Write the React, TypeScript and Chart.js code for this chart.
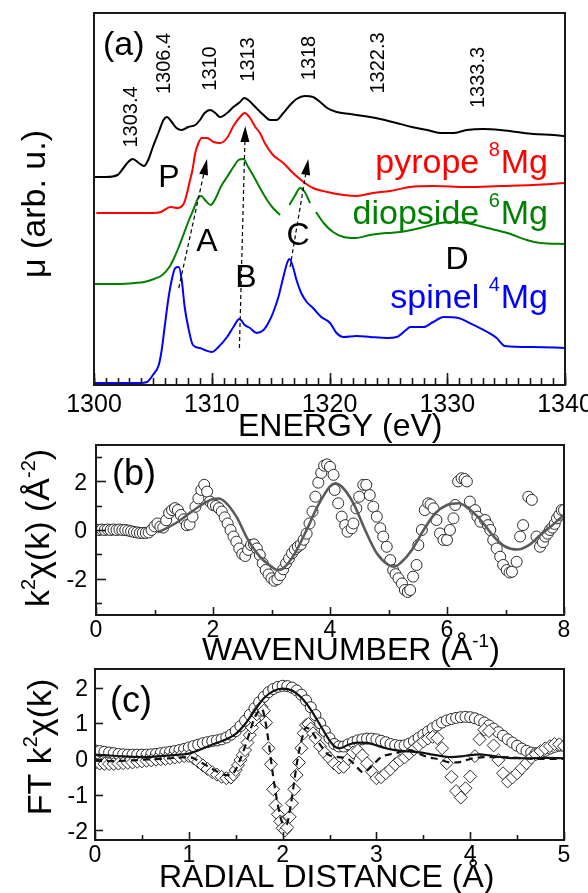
import React, { useEffect, useRef } from 'react';
import { Chart, registerables } from 'chart.js';

Chart.register(...registerables);

const W = 588;
const H = 893;
const FF = '"Liberation Sans", Arial, Helvetica, sans-serif';

// ================= Panel (a): XANES spectra =================
const aBlackE = [1300.0, 1301.0, 1302.0, 1302.5, 1302.9, 1303.3, 1303.8, 1304.25, 1304.6, 1305.0, 1305.5, 1305.9, 1306.2, 1306.6, 1307.0, 1307.45, 1308.0, 1308.6, 1309.0, 1309.4, 1309.86, 1310.3, 1310.7, 1311.3, 1311.84, 1312.4, 1312.75, 1313.1, 1313.7, 1314.4, 1314.95, 1315.5, 1316.08, 1316.65, 1317.2, 1317.9, 1318.6, 1319.2, 1319.8, 1320.6, 1321.75, 1322.9, 1324.3, 1325.7, 1327.0, 1328.3, 1329.4, 1330.5, 1331.65, 1333.1, 1334.5, 1335.9, 1337.3, 1339.0, 1340.0];
const aBlackMu = [2.08, 2.08, 2.10, 2.17, 2.23, 2.26, 2.22, 2.19, 2.25, 2.38, 2.53, 2.65, 2.68, 2.63, 2.57, 2.55, 2.58, 2.60, 2.65, 2.72, 2.75, 2.72, 2.68, 2.72, 2.78, 2.83, 2.87, 2.85, 2.78, 2.70, 2.65, 2.65, 2.72, 2.80, 2.86, 2.89, 2.88, 2.83, 2.77, 2.73, 2.71, 2.69, 2.66, 2.62, 2.58, 2.55, 2.52, 2.52, 2.55, 2.56, 2.55, 2.53, 2.51, 2.50, 2.49];

const aPyropeE = [1300.2, 1302.0, 1304.0, 1305.0, 1305.67, 1306.5, 1307.1, 1307.65, 1307.9, 1308.1, 1308.36, 1308.6, 1308.87, 1309.15, 1309.6, 1310.14, 1310.7, 1311.3, 1311.84, 1312.4, 1312.8, 1313.25, 1313.7, 1314.1, 1314.5, 1315.2, 1316.08, 1316.9, 1317.8, 1318.6, 1319.8, 1321.2, 1322.3, 1323.7, 1325.15, 1326.85, 1328.8, 1331.65, 1334.5, 1337.3, 1340.0];
const aPyropeMu = [1.72, 1.72, 1.72, 1.72, 1.73, 1.78, 1.77, 1.82, 1.92, 2.02, 2.15, 2.32, 2.42, 2.47, 2.47, 2.43, 2.42, 2.47, 2.59, 2.68, 2.72, 2.67, 2.58, 2.52, 2.42, 2.30, 2.22, 2.12, 2.03, 1.97, 1.93, 1.90, 1.89, 1.92, 1.94, 1.98, 1.99, 1.98, 1.99, 2.00, 2.02];

const aDiopsideE = [1300.0, 1302.0, 1303.5, 1304.25, 1305.1, 1305.8, 1306.4, 1306.8, 1307.2, 1307.65, 1308.07, 1308.5, 1308.84, 1309.1, 1309.5, 1309.9, 1310.34, 1310.76, 1311.3, 1311.84, 1312.27, 1312.68, 1313.1, 1313.5, 1314.1, 1314.7, 1315.2, 1315.8, 1316.2, 1316.6, 1317.1, 1317.5, 1317.9, 1318.35, 1318.6, 1318.85, 1319.5, 1320.3, 1321.2, 1322.2, 1323.45, 1324.9, 1326.0, 1327.7, 1329.4, 1330.5, 1331.65, 1333.4, 1335.1, 1336.75, 1337.9, 1340.0];
const aDiopsideMu = [1.01, 1.01, 1.02, 1.03, 1.06, 1.10, 1.18, 1.27, 1.38, 1.52, 1.65, 1.77, 1.87, 1.89, 1.84, 1.80, 1.87, 1.98, 2.08, 2.18, 2.25, 2.26, 2.18, 2.10, 1.97, 1.85, 1.77, 1.70, null, 1.80, 1.90, 1.97, 1.93, 1.82, null, 1.73, 1.62, 1.53, 1.48, 1.47, 1.50, 1.52, 1.53, 1.57, 1.62, 1.63, 1.62, 1.57, 1.52, 1.45, 1.42, 1.41];

const aSpinelE = [1300.0, 1302.0, 1303.9, 1304.5, 1305.0, 1305.5, 1305.75, 1306.0, 1306.3, 1306.6, 1306.9, 1307.2, 1307.45, 1307.7, 1308.0, 1308.4, 1309.0, 1309.4, 1310.0, 1310.57, 1311.3, 1311.84, 1312.35, 1312.8, 1313.25, 1313.8, 1314.4, 1314.8, 1315.2, 1315.66, 1316.08, 1316.4, 1316.6, 1316.9, 1317.2, 1317.6, 1318.07, 1318.6, 1319.3, 1320.05, 1320.6, 1321.2, 1322.3, 1323.45, 1324.9, 1325.7, 1326.5, 1326.85, 1328.0, 1328.8, 1329.7, 1330.95, 1331.9, 1333.4, 1334.2, 1334.9, 1337.3, 1340.0];
const aSpinelMu = [0.02, 0.02, 0.02, 0.03, 0.10, 0.20, 0.35, 0.58, 0.85, 1.05, 1.17, 1.18, 1.05, 0.78, 0.58, 0.40, 0.37, 0.35, 0.33, 0.38, 0.48, 0.58, 0.66, 0.60, 0.57, 0.52, 0.55, 0.62, 0.72, 0.88, 1.08, 1.22, 1.26, 1.18, 1.05, 0.92, 0.83, 0.77, 0.68, 0.62, 0.52, 0.48, 0.49, 0.48, 0.47, 0.48, 0.55, 0.58, 0.58, 0.63, 0.68, 0.67, 0.62, 0.53, 0.47, 0.39, 0.38, 0.37];

const aXTicks = [1300, 1310, 1320, 1330, 1340];
const aXTickLabels = ['1300', '1310', '1320', '1330', '1340'];
const aPeakLabels = ['1303.4', '1306.4', '1310', '1313', '1318', '1322.3', '1333.3'];
const aLetters = ['P', 'A', 'B', 'C', 'D'];
const aSpectrumNames = ['pyrope ', 'diopside ', 'spinel '];
const aSpectrumSup = ['8', '6', '4'];

// ================= Panel (b): k^2 chi(k) =================
const bK = [
  0, 0.05, 0.1, 0.15, 0.2, 0.25, 0.3, 0.35, 0.4, 0.45,
  0.5, 0.55, 0.6, 0.65, 0.7, 0.75, 0.8, 0.85, 0.9, 0.95,
  1.0, 1.05, 1.1, 1.15, 1.2, 1.25, 1.3, 1.35, 1.4, 1.45,
  1.5, 1.55, 1.6, 1.65, 1.7, 1.75, 1.8, 1.85, 1.9, 1.95,
  2.0, 2.05, 2.1, 2.15, 2.2, 2.25, 2.3, 2.35, 2.4, 2.45,
  2.5, 2.55, 2.6, 2.65, 2.7, 2.75, 2.8, 2.85, 2.9, 2.95,
  3.0, 3.05, 3.1, 3.15, 3.2, 3.25, 3.3, 3.35, 3.4, 3.45,
  3.5, 3.55, 3.6, 3.65, 3.7, 3.75, 3.8, 3.85, 3.9, 3.95,
  4.0, 4.06, 4.08, 4.14, 4.2, 4.26, 4.3, 4.37, 4.4, 4.45,
  4.5, 4.57, 4.62, 4.68, 4.74, 4.8, 4.86, 4.91, 4.97, 5.03,
  5.08, 5.12, 5.17, 5.23, 5.28, 5.33, 5.37, 5.42, 5.48, 5.51,
  5.57, 5.62, 5.68, 5.72, 5.77, 5.82, 5.88, 5.94, 6.0, 6.05,
  6.11, 6.14, 6.19, 6.25, 6.3, 6.34, 6.39, 6.48, 6.52, 6.57,
  6.65, 6.7, 6.74, 6.79, 6.85, 6.91, 6.96, 7.02, 7.07, 7.11,
  7.19, 7.25, 7.3, 7.39, 7.45, 7.53, 7.59, 7.64, 7.68, 7.72,
  7.76, 7.8, 7.84, 7.88, 7.92, 7.96, 8.0,
];
const bChi = [
  0.02, 0, 0.02, 0, 0.02, 0, 0.02, 0, 0.02, 0,
  0, -0.02, -0.05, -0.08, -0.1, -0.12, -0.12, -0.12, -0.1, 0,
  0.15, 0.27, 0.14, 0.1, 0.4, 0.7, 0.82, 0.9, 0.82, 0.62,
  0.44, 0.2, 0.23, 0.55, 0.96, 1.3, 1.65, 1.86, 1.58, 1.17,
  1.03, 0.99, 0.9, 0.76, 0.52, 0.27, 0, -0.27, -0.48, -0.76,
  -0.99, -1.07, -0.82, -0.62, -0.59, -0.76, -1.03, -1.37, -1.65, -1.83,
  -1.99, -2.09, -2.03, -1.86, -1.62, -1.37, -1.17, -0.96, -0.8, -0.69,
  -0.6, -0.4, -0.15, 0.27, 0.76, 1.37, 1.95, 2.35, 2.65, 2.7,
  2.6, 2.27, 1.65, 1.1, 0.55, 0.2, -0.07, 0.07, 0.27, 0.89,
  1.37, 1.86, 1.86, 1.44, 0.96, 0.55, 0.07, -0.27, -0.69, -1.24,
  -1.65, -1.82, -1.99, -2.2, -2.47, -2.55, -2.47, -1.92, -1.44, -0.62,
  0, 0.82, 1.1, 1.05, 0.89, 0.41, -0.14, -0.41, -0.41, 0,
  0.48, 1.03, 2.0, 2.13, 2.1, 2.0, 1.17, 0.82, 0.55, 0.34,
  0.41, 0.2, 0, -0.41, -0.76, -1.1, -1.44, -1.65, -1.75, -1.72,
  -1.31, -0.27, 0.2, 1.37, 1.24, -0.27, -0.69, -0.5, -0.27, -0.15,
  0, 0.1, 0.25, 0.48, 0.62, 0.82, 0.82,
];
const bFitK = [1.05, 1.2, 1.4, 1.6, 1.8, 2.0, 2.1, 2.2, 2.4, 2.6, 2.8, 3.0, 3.1, 3.2, 3.4, 3.6, 3.8, 4.0, 4.1, 4.2, 4.4, 4.6, 4.8, 5.0, 5.1, 5.2, 5.4, 5.6, 5.8, 6.0, 6.2, 6.4, 6.6, 6.8, 7.0, 7.2, 7.4, 7.6, 7.8, 8.0];
const bFitChi = [-0.1, 0.07, 0.34, 0.69, 1.03, 1.28, 1.3, 1.17, 0.55, -0.41, -1.1, -1.51, -1.65, -1.58, -0.96, 0.0, 1.03, 1.8, 1.92, 1.79, 1.1, 0.0, -0.96, -1.44, -1.51, -1.37, -0.82, 0.0, 0.69, 1.03, 1.1, 0.82, 0.34, -0.27, -0.69, -0.8, -0.62, -0.2, 0.2, 0.62];
const bXTicks = [0, 2, 4, 6, 8];
const bXTickLabels = ['0', '2', '4', '6', '8'];
const bXMinor = [1, 3, 5, 7];
const bYTicks = [-2, 0, 2];
const bYTickLabels = ['-2', '0', '2'];
const bYMinor = [-3, -1, 1, 3];

// ================= Panel (c): Fourier transform =================
const cCircR = [
  0, 0.05, 0.1, 0.15, 0.2, 0.25, 0.3, 0.35, 0.4, 0.45,
  0.5, 0.55, 0.6, 0.65, 0.7, 0.75, 0.8, 0.85, 0.9, 0.95,
  1.0, 1.05, 1.1, 1.15, 1.2, 1.25, 1.3, 1.35, 1.4, 1.45,
  1.5, 1.55, 1.6, 1.65, 1.7, 1.75, 1.8, 1.85, 1.9, 1.95,
  2.0, 2.05, 2.1, 2.15, 2.2, 2.25, 2.3, 2.35, 2.4, 2.45,
  2.5, 2.55, 2.6, 2.65, 2.7, 2.75, 2.8, 2.85, 2.9, 2.95,
  3.0, 3.05, 3.1, 3.15, 3.2, 3.25, 3.3, 3.35, 3.4, 3.45,
  3.5, 3.55, 3.6, 3.65, 3.7, 3.75, 3.8, 3.85, 3.9, 3.95,
  4.0, 4.05, 4.1, 4.15, 4.2, 4.25, 4.3, 4.35, 4.4, 4.45,
  4.5, 4.55, 4.6, 4.65, 4.7, 4.75, 4.8, 4.85, 4.9, 4.95,
  5.0,
];
const cCircV = [
  0.24, 0.22, 0.20, 0.18, 0.16, 0.14, 0.13, 0.12, 0.12, 0.12,
  0.12, 0.12, 0.13, 0.14, 0.16, 0.18, 0.20, 0.22, 0.25, 0.28,
  0.32, 0.36, 0.40, 0.44, 0.47, 0.50, 0.52, 0.55, 0.60, 0.68,
  0.78, 0.92, 1.07, 1.24, 1.42, 1.59, 1.74, 1.87, 1.96, 2.02,
  2.05, 2.04, 2.00, 1.92, 1.80, 1.64, 1.45, 1.23, 1.00, 0.78,
  0.58, 0.42, 0.35, 0.35, 0.41, 0.47, 0.52, 0.55, 0.57, 0.57,
  0.55, 0.51, 0.47, 0.42, 0.39, 0.37, 0.38, 0.43, 0.50, 0.59,
  0.68, 0.77, 0.86, 0.94, 1.02, 1.08, 1.12, 1.15, 1.17, 1.18,
  1.17, 1.14, 1.09, 1.02, 0.94, 0.85, 0.75, 0.65, 0.55, 0.46,
  0.37, 0.29, 0.23, 0.18, 0.16, 0.18, 0.23, 0.29, 0.34, 0.37,
  0.37,
];
const cDiaR = [
  0, 0.05, 0.1, 0.15, 0.2, 0.25, 0.3, 0.35, 0.4, 0.45,
  0.5, 0.55, 0.6, 0.65, 0.7, 0.75, 0.8, 0.85, 0.9, 0.95,
  1.0, 1.05, 1.1, 1.15, 1.2, 1.25, 1.3, 1.35, 1.4, 1.45,
  1.475, 1.5, 1.525, 1.55, 1.575, 1.6, 1.625, 1.65, 1.675, 1.7,
  1.725, 1.75, 1.775, 1.8, 1.825, 1.85, 1.875, 1.9, 1.925, 1.95,
  1.975, 2.0, 2.025, 2.05, 2.075, 2.1, 2.125, 2.15, 2.175, 2.2,
  2.225, 2.25, 2.275, 2.3, 2.325,
  2.35, 2.4, 2.45, 2.5, 2.55, 2.6, 2.65, 2.7, 2.75, 2.8,
  2.85, 2.9, 2.95, 3.0, 3.05, 3.1, 3.15, 3.2, 3.25, 3.3,
  3.35, 3.4, 3.45, 3.5, 3.55, 3.6, 3.65, 3.7, 3.75, 3.8,
  3.85, 3.9, 3.95, 4.0, 4.05, 4.1, 4.15, 4.2, 4.25, 4.3,
  4.35, 4.4, 4.45, 4.5, 4.55, 4.6, 4.65, 4.7, 4.75, 4.8,
  4.85, 4.9, 4.95, 5.0,
];
const cDiaV = [
  -0.12, -0.13, -0.14, -0.14, -0.14, -0.13, -0.12, -0.11, -0.10, -0.08,
  -0.07, -0.05, -0.04, -0.02, -0.01, 0.00, 0.02, 0.04, 0.06, 0.08,
  0.08, 0.02, -0.08, -0.18, -0.28, -0.37, -0.44, -0.50, -0.54, -0.52,
  -0.44, -0.31, -0.17, -0.03, 0.11, 0.25, 0.46, 0.67, 0.88, 1.09,
  1.25, 1.37, 1.46, 1.35, 1.02, 0.30, -0.15, -0.85, -1.30, -1.55,
  -1.75, -1.94, -2.0, -1.92, -1.62, -1.24, -0.85, -0.45, -0.10, 0.30,
  0.72, 0.95, 0.98, 0.85, 0.72,
  0.58, 0.35, 0.17, 0.02, -0.13, -0.24, -0.22, 0.0, 0.18, 0.24,
  0.10, -0.12, -0.35, -0.54, -0.51, -0.40, -0.29, -0.15, -0.04, 0.04,
  0.15, 0.27, 0.38, 0.49, 0.57, 0.62, 0.58, 0.30, -0.12, -0.50,
  -0.90, -1.08, -0.82, -0.49, 0.08, 0.55, 0.82, 0.78, 0.38, -0.03,
  -0.40, -0.63, -0.52, -0.40, -0.26, -0.12, 0.03, 0.13, 0.22, 0.30,
  0.36, 0.42, 0.41, 0.36,
];
const cFitR = [0, 0.1, 0.2, 0.3, 0.4, 0.5, 0.6, 0.7, 0.8, 0.9, 1.0, 1.1, 1.2, 1.3, 1.4, 1.5, 1.6, 1.7, 1.8, 1.9, 2.0, 2.1, 2.2, 2.3, 2.4, 2.5, 2.55, 2.6, 2.65, 2.7, 2.8, 2.9, 3.0, 3.1, 3.2, 3.3, 3.4, 3.5, 3.6, 3.7, 3.8, 3.9, 4.0, 4.1, 4.2, 4.3, 4.4, 4.6, 4.8, 5.0];
const cFitV = [0.12, 0.11, 0.09, 0.07, 0.06, 0.05, 0.06, 0.08, 0.10, 0.12, 0.15, 0.24, 0.35, 0.45, 0.55, 0.70, 0.98, 1.35, 1.70, 1.90, 1.97, 1.92, 1.72, 1.38, 0.95, 0.52, 0.36, 0.30, 0.33, 0.40, 0.46, 0.45, 0.38, 0.30, 0.25, 0.22, 0.20, 0.17, 0.12, 0.08, 0.05, 0.07, 0.11, 0.13, 0.10, 0.06, 0.03, 0.02, 0.03, 0.02];
const cFitImR = [0, 0.1, 0.2, 0.3, 0.4, 0.5, 0.6, 0.7, 0.8, 0.9, 1.0, 1.05, 1.1, 1.2, 1.3, 1.4, 1.45, 1.5, 1.55, 1.6, 1.65, 1.7, 1.75, 1.78, 1.82, 1.86, 1.9, 1.95, 2.0, 2.04, 2.08, 2.12, 2.16, 2.2, 2.25, 2.3, 2.4, 2.5, 2.6, 2.7, 2.8, 2.86, 2.95, 3.05, 3.2, 3.36, 3.45, 3.55, 3.65, 3.8, 3.9, 4.0, 4.15, 4.3, 4.5, 4.7, 4.85, 5.0];
const cFitImV = [-0.05, -0.06, -0.06, -0.05, -0.04, -0.02, -0.01, 0.0, 0.02, 0.04, 0.05, 0.02, -0.05, -0.2, -0.35, -0.45, -0.45, -0.3, 0.0, 0.35, 0.75, 1.15, 1.35, 1.4, 1.0, 0.3, -0.5, -1.3, -1.8, -1.85, -1.4, -0.7, 0.0, 0.5, 0.88, 0.8, 0.4, 0.1, 0.05, 0.0, -0.25, -0.38, -0.2, 0.05, 0.16, 0.25, 0.15, 0.05, 0.0, -0.1, -0.08, 0.0, 0.05, 0.05, 0.03, 0.0, 0.0, 0.0];
const cXTicks = [0, 1, 2, 3, 4, 5];
const cXTickLabels = ['0', '1', '2', '3', '4', '5'];
const cXMinor = [0.5, 1.5, 2.5, 3.5, 4.5];
const cYTicks = [-2, -1, 0, 1, 2];
const cYTickLabels = ['-2', '-1', '0', '1', '2'];

// ================= layout (pixels) =================
const AREA_A = { l: 94, t: 13, r: 565, b: 385 };
const AREA_B = { l: 96, t: 445, r: 564, b: 615 };
const AREA_C = { l: 95, t: 669, r: 564, b: 840 };

// annotation anchors in data units for panel (a)
const A_PEAK_POS: [number, number][] = [[1303.06, 2.68], [1305.86, 3.215], [1309.77, 3.165], [1312.99, 3.255], [1318.17, 3.27], [1324.03, 3.22], [1332.53, 3.075]];
const A_LETTER_POS: [number, number][] = [[1306.37, 2.09], [1309.6, 1.45], [1312.91, 1.09], [1317.32, 1.51], [1330.83, 1.27]];
const A_ARROWS: [number, number, number, number][] = [
  [1307.2, 0.97, 1309.6, 2.26],
  [1312.35, 0.37, 1312.85, 2.59],
  [1316.65, 1.18, 1318.2, 2.26],
];
const A_NAME_BASE = [173, 224, 308];
const A_NAME_COLOR = ['#ff0000', '#008000', '#0000ff'];

type Seg = { t: string; sup?: boolean };

const font = (s: number) => `${s}px ${FF}`;

function segsWidth(ctx: CanvasRenderingContext2D, segs: Seg[], size: number) {
  let w = 0;
  for (const s of segs) {
    ctx.font = font(s.sup ? Math.round(size * 0.6) : size);
    w += ctx.measureText(s.t).width;
  }
  return w;
}

function drawSegs(ctx: CanvasRenderingContext2D, segs: Seg[], x: number, y: number, size: number, align: 'left' | 'center' | 'right') {
  const w = segsWidth(ctx, segs, size);
  let cx = align === 'center' ? x - w / 2 : align === 'right' ? x - w : x;
  ctx.textAlign = 'left';
  ctx.textBaseline = 'alphabetic';
  for (const s of segs) {
    const fs = s.sup ? Math.round(size * 0.6) : size;
    ctx.font = font(fs);
    ctx.fillText(s.t, cx, s.sup ? y - size * 0.42 : y);
    cx += ctx.measureText(s.t).width;
  }
}

function drawRotated(ctx: CanvasRenderingContext2D, segs: Seg[], baseX: number, centerY: number, size: number) {
  ctx.save();
  ctx.translate(baseX, centerY);
  ctx.rotate(-Math.PI / 2);
  drawSegs(ctx, segs, 0, 0, size, 'center');
  ctx.restore();
}

function drawFrame(chart: any) {
  const { ctx, chartArea: ca } = chart;
  ctx.save();
  ctx.strokeStyle = '#1a1a1a';
  ctx.lineWidth = 2;
  ctx.setLineDash([]);
  ctx.strokeRect(ca.left, ca.top, ca.right - ca.left, ca.bottom - ca.top);
  ctx.restore();
}

function drawXTicks(chart: any, vals: number[], len: number) {
  const { ctx, chartArea: ca, scales } = chart;
  ctx.save();
  ctx.strokeStyle = '#1a1a1a';
  ctx.lineWidth = 1.6;
  for (const v of vals) {
    const px = Math.round(scales.x.getPixelForValue(v)) + 0.5;
    ctx.beginPath();
    ctx.moveTo(px, ca.bottom);
    ctx.lineTo(px, ca.bottom - len);
    ctx.stroke();
  }
  ctx.restore();
}

function drawYTicks(chart: any, vals: number[], len: number) {
  const { ctx, chartArea: ca, scales } = chart;
  ctx.save();
  ctx.strokeStyle = '#1a1a1a';
  ctx.lineWidth = 1.6;
  for (const v of vals) {
    const py = Math.round(scales.y.getPixelForValue(v)) + 0.5;
    ctx.beginPath();
    ctx.moveTo(ca.left, py);
    ctx.lineTo(ca.left + len, py);
    ctx.stroke();
  }
  ctx.restore();
}

function drawXLabels(chart: any, vals: number[], labels: string[], baseY: number, size: number) {
  const { ctx, scales } = chart;
  ctx.save();
  ctx.fillStyle = '#000';
  ctx.font = font(size);
  ctx.textAlign = 'center';
  ctx.textBaseline = 'alphabetic';
  vals.forEach((v, i) => ctx.fillText(labels[i], scales.x.getPixelForValue(v), baseY));
  ctx.restore();
}

function drawYLabels(chart: any, vals: number[], labels: string[], rightX: number, size: number) {
  const { ctx, scales } = chart;
  ctx.save();
  ctx.fillStyle = '#000';
  ctx.font = font(size);
  ctx.textAlign = 'right';
  ctx.textBaseline = 'alphabetic';
  vals.forEach((v, i) => ctx.fillText(labels[i], rightX, scales.y.getPixelForValue(v) + size * 0.358));
  ctx.restore();
}

const rangeStep = (a: number, b: number, s: number) => {
  const out: number[] = [];
  for (let v = a; v <= b + 1e-9; v += s) out.push(Math.round(v * 1000) / 1000);
  return out;
};

const pluginA = {
  id: 'panelA',
  afterDraw(chart: any) {
    const { ctx, scales } = chart;
    const X = (v: number) => scales.x.getPixelForValue(v);
    const Y = (v: number) => scales.y.getPixelForValue(v);
    ctx.save();
    // arrows
    for (const [e1, m1, e2, m2] of A_ARROWS) {
      const x1 = X(e1), y1 = Y(m1), x2 = X(e2), y2 = Y(m2);
      const dx = x2 - x1, dy = y2 - y1;
      const L = Math.hypot(dx, dy);
      const ux = dx / L, uy = dy / L;
      const hl = 16, hw = 4.5;
      const bx = x2 - ux * hl, by = y2 - uy * hl;
      ctx.strokeStyle = '#000';
      ctx.lineWidth = 1.2;
      ctx.setLineDash([4, 3]);
      ctx.beginPath();
      ctx.moveTo(x1, y1);
      ctx.lineTo(bx, by);
      ctx.stroke();
      ctx.setLineDash([]);
      ctx.fillStyle = '#000';
      ctx.beginPath();
      ctx.moveTo(x2, y2);
      ctx.lineTo(bx - uy * hw, by + ux * hw);
      ctx.lineTo(bx + uy * hw, by - ux * hw);
      ctx.closePath();
      ctx.fill();
    }
    // peak energy labels
    ctx.fillStyle = '#000';
    aPeakLabels.forEach((t, i) => {
      const [e, m] = A_PEAK_POS[i];
      ctx.save();
      ctx.translate(X(e) + 20 * 0.358, Y(m));
      ctx.rotate(-Math.PI / 2);
      ctx.font = font(20);
      ctx.textAlign = 'center';
      ctx.textBaseline = 'alphabetic';
      ctx.fillText(t, 0, 0);
      ctx.restore();
    });
    // feature letters
    ctx.font = font(32);
    ctx.textAlign = 'center';
    ctx.textBaseline = 'alphabetic';
    aLetters.forEach((t, i) => {
      const [e, m] = A_LETTER_POS[i];
      ctx.fillText(t, X(e), Y(m) + 32 * 0.358);
    });
    // spectrum names
    aSpectrumNames.forEach((name, i) => {
      const base = A_NAME_BASE[i];
      const right = 548;
      ctx.fillStyle = A_NAME_COLOR[i];
      ctx.textAlign = 'right';
      ctx.font = font(34);
      const mgW = ctx.measureText('Mg').width;
      ctx.fillText('Mg', right, base);
      ctx.font = font(20);
      const supW = ctx.measureText(aSpectrumSup[i]).width;
      ctx.fillText(aSpectrumSup[i], right - mgW - 1, base - 17);
      ctx.font = font(34);
      ctx.fillText(name, right - mgW - 1 - supW, base);
    });
    ctx.fillStyle = '#000';
    ctx.textAlign = 'left';
    ctx.font = font(34);
    ctx.fillText('(a)', 103, 55);
    ctx.restore();

    drawXTicks(chart, rangeStep(1300, 1340, 1), 7);
    drawXTicks(chart, aXTicks, 12);
    drawFrame(chart);
    drawXLabels(chart, aXTicks, aXTickLabels, 412, 25);
    ctx.save();
    ctx.fillStyle = '#000';
    drawSegs(ctx, [{ t: 'ENERGY (eV)' }], 238, 436, 32, 'left');
    drawRotated(ctx, [{ t: 'μ (arb. u.)' }], 45, 204, 34);
    ctx.restore();
  },
};

const pluginB = {
  id: 'panelB',
  afterDraw(chart: any) {
    const { ctx } = chart;
    drawXTicks(chart, bXMinor, 5);
    drawXTicks(chart, bXTicks, 8);
    drawYTicks(chart, bYMinor, 6);
    drawYTicks(chart, bYTicks, 10);
    drawFrame(chart);
    drawXLabels(chart, bXTicks, bXTickLabels, 637, 23);
    drawYLabels(chart, bYTicks, bYTickLabels, 87, 23);
    ctx.save();
    ctx.fillStyle = '#000';
    ctx.font = font(36);
    ctx.textAlign = 'left';
    ctx.textBaseline = 'alphabetic';
    ctx.fillText('(b)', 112, 485);
    drawSegs(ctx, [{ t: 'WAVENUMBER (Å' }, { t: '-1', sup: true }, { t: ')' }], 202, 660, 32, 'left');
    drawRotated(ctx, [{ t: 'k' }, { t: '2', sup: true }, { t: 'χ(k) (Å' }, { t: '-2', sup: true }, { t: ')' }], 49, 528, 34);
    ctx.restore();
  },
};

const pluginC = {
  id: 'panelC',
  afterDraw(chart: any) {
    const { ctx } = chart;
    drawXTicks(chart, cXMinor, 5);
    drawXTicks(chart, cXTicks, 8);
    drawYTicks(chart, cYTicks, 8);
    drawFrame(chart);
    drawXLabels(chart, cXTicks, cXTickLabels, 862, 23);
    drawYLabels(chart, cYTicks, cYTickLabels, 88, 23);
    ctx.save();
    ctx.fillStyle = '#000';
    ctx.font = font(36);
    ctx.textAlign = 'left';
    ctx.textBaseline = 'alphabetic';
    ctx.fillText('(c)', 110, 712);
    drawSegs(ctx, [{ t: 'RADIAL DISTANCE (Å)' }], 159, 887, 32, 'left');
    drawRotated(ctx, [{ t: 'FT k' }, { t: '2', sup: true }, { t: 'χ(k)' }], 51, 747, 34);
    ctx.restore();
  },
};

const toXY = (xs: number[], ys: (number | null)[]) => xs.map((x, i) => ({ x, y: ys[i] }));

const lineDS = (xs: number[], ys: (number | null)[], color: string, width: number, dash: number[] = []) => ({
  data: toXY(xs, ys),
  showLine: true,
  borderColor: color,
  borderWidth: width,
  borderDash: dash,
  pointRadius: 0,
  pointHoverRadius: 0,
  fill: false,
  spanGaps: false,
  cubicInterpolationMode: 'monotone',
  clip: 0,
});

const markerDS = (xs: number[], ys: number[], style: string, radius: number) => ({
  data: toXY(xs, ys),
  showLine: false,
  pointStyle: style,
  pointRadius: radius,
  pointHoverRadius: radius,
  pointBorderWidth: 1,
  pointBorderColor: '#2a2a2a',
  pointBackgroundColor: '#ffffff',
  clip: 0,
});

function makeChart(canvas: HTMLCanvasElement, datasets: any[], area: any, xr: [number, number], yr: [number, number], plugin: any) {
  return new Chart(canvas, {
    type: 'line',
    data: { datasets },
    options: {
      animation: false,
      responsive: false,
      maintainAspectRatio: false,
      devicePixelRatio: 1,
      events: [],
      layout: { padding: { left: area.l, top: area.t, right: W - area.r, bottom: H - area.b } },
      plugins: { legend: { display: false }, tooltip: { enabled: false }, title: { display: false } },
      scales: {
        x: { type: 'linear', display: false, min: xr[0], max: xr[1] },
        y: { type: 'linear', display: false, min: yr[0], max: yr[1] },
      },
    } as any,
    plugins: [plugin],
  });
}

export default function App() {
  const refA = useRef<HTMLCanvasElement>(null);
  const refB = useRef<HTMLCanvasElement>(null);
  const refC = useRef<HTMLCanvasElement>(null);

  useEffect(() => {
    const charts: Chart[] = [];
    if (refA.current) {
      charts.push(makeChart(refA.current, [
        lineDS(aBlackE, aBlackMu, '#000000', 2),
        lineDS(aPyropeE, aPyropeMu, '#ff0000', 2),
        lineDS(aDiopsideE, aDiopsideMu, '#008000', 2),
        lineDS(aSpinelE, aSpinelMu, '#0000ff', 2),
      ], AREA_A, [1300, 1340], [0, 3.72], pluginA));
    }
    if (refB.current) {
      charts.push(makeChart(refB.current, [
        lineDS(bFitK, bFitChi, '#5a5a5a', 2.6),
        markerDS(bK, bChi, 'circle', 5.5),
      ], AREA_B, [0, 8], [-3.5, 3.5], pluginB));
    }
    if (refC.current) {
      charts.push(makeChart(refC.current, [
        lineDS(cFitR, cFitV, '#111111', 2.2),
        lineDS(cFitImR, cFitImV, '#111111', 2.2, [7, 5]),
        markerDS(cDiaR, cDiaV, 'rectRot', 6.5),
        markerDS(cCircR, cCircV, 'circle', 5.5),
      ], AREA_C, [0, 5], [-2.27, 2.52], pluginC));
    }
    return () => charts.forEach((c) => c.destroy());
  }, []);

  const cs: React.CSSProperties = { position: 'absolute', left: 0, top: 0, width: W, height: H };
  return (
    <div style={{ position: 'absolute', left: 0, top: 0, width: W, height: H, background: '#ffffff', overflow: 'hidden' }}>
      <canvas ref={refC} width={W} height={H} style={cs} />
      <canvas ref={refB} width={W} height={H} style={cs} />
      <canvas ref={refA} width={W} height={H} style={cs} />
    </div>
  );
}
